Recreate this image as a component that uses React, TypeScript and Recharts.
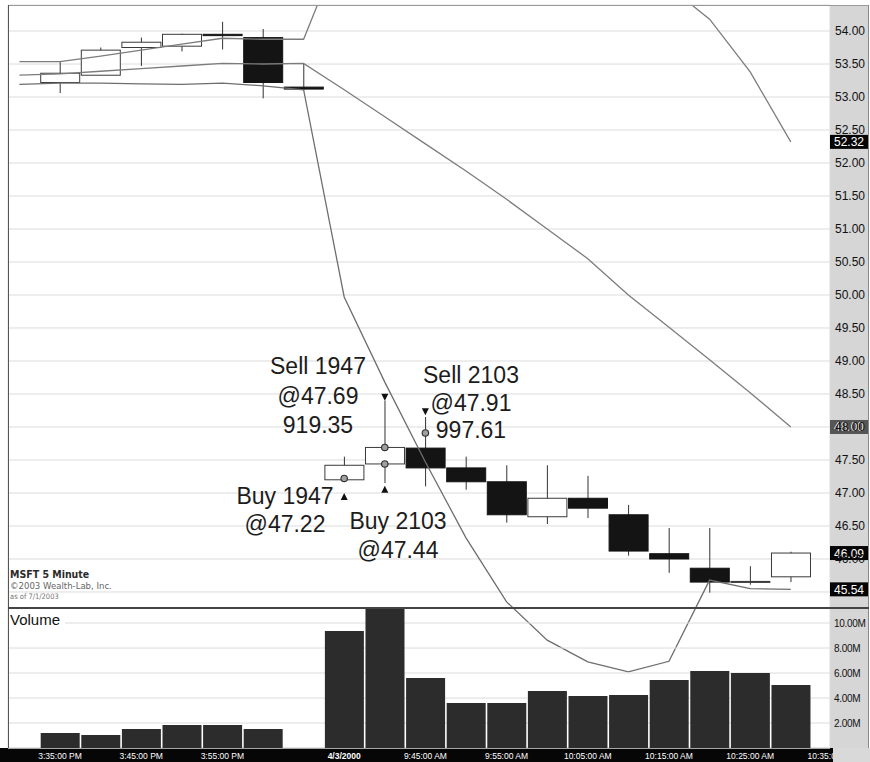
import React from "react";
import {
  Bar,
  CartesianGrid,
  ComposedChart,
  Line,
  ReferenceLine,
  Scatter,
  XAxis,
  YAxis,
} from "recharts";

// bar slots (5 minute bars); slot -1 only carries band values
const slots = [-1, 0, 1, 2, 3, 4, 5, 6, 7, 8, 9, 10, 11, 12, 13, 14, 15, 16, 17, 18];

const openP = [null, 53.22, 53.33, 53.75, 53.77, 53.95, 53.9, 53.15, 47.2, 47.44, 47.68, 47.38, 47.17, 46.64, 46.92, 46.67, 46.08, 45.86, 45.65, 45.73];
const highP = [null, 53.54, 53.75, 53.9, 53.96, 54.14, 54.03, 53.5, 47.55, 48.4, 48.15, 47.55, 47.42, 47.42, 47.26, 46.82, 46.47, 46.47, 45.89, 46.11];
const lowP = [null, 53.06, 53.33, 53.47, 53.69, 53.72, 52.98, 53.1, 47.17, 47.15, 47.1, 47.05, 46.55, 46.53, 46.62, 46.05, 45.79, 45.49, 45.61, 45.65];
const closeP = [null, 53.36, 53.71, 53.83, 53.95, 53.93, 53.22, 53.12, 47.42, 47.69, 47.38, 47.17, 46.67, 46.92, 46.77, 46.12, 46.0, 45.65, 45.66, 46.09];

const upperBand = [53.535, 53.535, 53.62, 53.71, 53.8, 53.89, 53.875, 53.875, 55.4, null, null, null, null, null, null, null, 54.67, 54.18, 53.38, 52.32];
const middleBand = [53.33, 53.35, 53.39, 53.43, 53.47, 53.51, 53.5, 53.51, 53.11, 52.7, 52.29, 51.88, 51.45, 51.0, 50.55, 50.0, 49.51, 49.02, 48.52, 48.0];
const lowerBand = [53.19, 53.21, 53.21, 53.2, 53.19, 53.21, 53.17, 53.11, 49.97, 48.68, 47.47, 46.32, 45.35, 44.77, 44.44, 44.29, 44.45, 45.68, 45.55, 45.54];

// volume in millions
const volumeM = [null, 1.2, 1.04, 1.52, 1.84, 1.84, 1.52, null, 9.36, 11.6, 5.6, 3.6, 3.6, 4.56, 4.16, 4.24, 5.44, 6.16, 6.0, 5.04];

const priceTicks = [45.5, 46, 46.5, 47, 47.5, 48, 48.5, 49, 49.5, 50, 50.5, 51, 51.5, 52, 52.5, 53, 53.5, 54];
const volumeTicks = [2, 4, 6, 8, 10];
const gridSlots = [0, 2, 4, 6, 7, 9, 11, 13, 15, 17];
const timeSlots = [0, 2, 4, 7, 9, 11, 13, 15, 17, 19];
const timeLabels = ["3:35:00 PM", "3:45:00 PM", "3:55:00 PM", "4/3/2000", "9:45:00 AM", "9:55:00 AM", "10:05:00 AM", "10:15:00 AM", "10:25:00 AM", "10:35:00 AM"];

// trades
const buyArrows = [{ slot: 7, price: 46.94 }, { slot: 8, price: 47.05 }];
const sellArrows = [{ slot: 8, price: 48.46 }, { slot: 9, price: 48.24 }];
const fills = [{ slot: 7, price: 47.22 }, { slot: 8, price: 47.69 }, { slot: 8, price: 47.44 }, { slot: 9, price: 47.91 }];

const priceRows = slots.map((slot, i) => ({
  slot,
  open: openP[i],
  high: highP[i],
  low: lowP[i],
  close: closeP[i],
  upper: upperBand[i],
  middle: middleBand[i],
  lower: lowerBand[i],
}));
const volumeRows = slots.map((slot, i) => ({ slot, volume: volumeM[i] }));

const X_DOMAIN: [number, number] = [-1.2808, 18.966];
const FONT = "Arial, 'Liberation Sans', sans-serif";
const SMALL_FONT = "'DejaVu Sans Condensed', 'DejaVu Sans', Verdana, sans-serif";

const last = (arr: (number | null)[]) => arr[arr.length - 1] as number;

const Candle = (props: any) => {
  const { x, y, width, height, payload } = props;
  if (payload.open == null || !height) return null;
  const { open, close, high, low } = payload;
  const k = height / (high - low);
  const py = (p: number) => y + (high - p) * k;
  const cx = x + width / 2;
  const up = close >= open;
  const top = py(Math.max(open, close));
  const h = Math.max(py(Math.min(open, close)) - top, 1);
  return (
    <g>
      <line x1={cx} x2={cx} y1={y} y2={y + height} stroke="#333" strokeWidth={1} />
      <rect
        x={x}
        y={top}
        width={width}
        height={h}
        fill={up ? "#fff" : "#141414"}
        stroke={up ? "#3a3a3a" : "#141414"}
        strokeWidth={1}
      />
    </g>
  );
};

const UpMark = ({ cx, cy }: any) => (
  <path d={`M${cx},${cy - 4} L${cx + 3.5},${cy + 3} L${cx - 3.5},${cy + 3} Z`} fill="#111" />
);
const DownMark = ({ cx, cy }: any) => (
  <path d={`M${cx},${cy + 4} L${cx + 3.5},${cy - 3} L${cx - 3.5},${cy - 3} Z`} fill="#111" />
);
const FillMark = ({ cx, cy }: any) => (
  <circle cx={cx} cy={cy} r={3.2} fill="#a0a0a0" stroke="#333" strokeWidth={1.2} />
);

// the last-value tag of the lower band hides the 45.50 label completely
const PriceTick = ({ x, y, payload }: any) =>
  Math.abs(payload.value - last(lowerBand)) < 0.08 ? null : (
    <text x={x} y={y} dy={4} fontSize={12} fill="#111" fontFamily={FONT}>
      {payload.value.toFixed(2)}
    </text>
  );
const VolumeTick = ({ x, y, payload }: any) => (
  <text x={x} y={y} dy={3.5} fontSize={10} fill="#111" fontFamily={FONT} letterSpacing={-0.3}>
    {payload.value.toFixed(2)}M
  </text>
);
const TimeTick = ({ x, y, payload }: any) => {
  const label = timeLabels[timeSlots.indexOf(payload.value)];
  return (
    <text
      x={x}
      y={y}
      dy={11}
      textAnchor="middle"
      fontSize={8.5}
      fill="#fff"
      fontWeight={label && label.includes("/") ? "bold" : "normal"}
      fontFamily={FONT}
    >
      {label}
    </text>
  );
};

const ValueTag = ({ viewBox, text, bg }: any) => {
  if (!viewBox) return null;
  const x = viewBox.x + viewBox.width;
  const y = viewBox.y;
  return (
    <g>
      <rect x={x} y={y - 7} width={38} height={14} fill={bg} />
      <text x={x + 4} y={y + 4.5} fill="#fff" fontSize={12} fontFamily={FONT}>
        {text}
      </text>
    </g>
  );
};

const notes = [
  { lines: ["Sell 1947", "@47.69", "919.35"], cx: 318, cy: 367, lh: 29.5 },
  { lines: ["Sell 2103", "@47.91", "997.61"], cx: 471, cy: 376, lh: 27.5 },
  { lines: ["Buy 1947", "@47.22"], cx: 285, cy: 496, lh: 28 },
  { lines: ["Buy 2103", "@47.44"], cx: 398, cy: 521, lh: 29 },
];

const abs = (l: number, t: number, w: number, h: number, extra: React.CSSProperties = {}): React.CSSProperties => ({
  position: "absolute",
  left: l,
  top: t,
  width: w,
  height: h,
  ...extra,
});

export default function App() {
  return (
    <div style={abs(0, 0, 870, 762, { background: "#fff", overflow: "hidden", fontFamily: FONT })}>
      {/* panels */}
      <div style={abs(830, 5, 38, 743, { background: "#d6d6d6", borderRight: "1px solid #888" })} />
      <div style={abs(0, 748, 833, 14, { background: "#060606" })} />

      <div style={abs(0, 0, 870, 762)}>
        <ComposedChart width={870} height={762} data={priceRows} margin={{ top: 5, right: 2, bottom: 14, left: 8 }}>
          <CartesianGrid stroke="#dcdcdc" />
          <XAxis
            dataKey="slot"
            type="number"
            domain={X_DOMAIN}
            allowDataOverflow
            ticks={gridSlots}
            interval={0}
            height={0}
            tick={false}
            axisLine={false}
            tickLine={false}
          />
          <YAxis
            orientation="right"
            width={38}
            type="number"
            domain={[43.136, 54.394]}
            allowDataOverflow
            ticks={priceTicks}
            interval={0}
            tickSize={0}
            tickMargin={5}
            axisLine={false}
            tickLine={false}
            tick={<PriceTick />}
          />
          <Bar
            dataKey={(d: any) => (d.open == null ? null : [d.low, d.high])}
            barSize={39}
            shape={<Candle />}
            isAnimationActive={false}
          />
          <Line dataKey="upper" type="linear" stroke="#7c7c7c" strokeWidth={1.3} dot={false} activeDot={false} connectNulls isAnimationActive={false} />
          <Line dataKey="middle" type="linear" stroke="#7c7c7c" strokeWidth={1.3} dot={false} activeDot={false} isAnimationActive={false} />
          <Line dataKey="lower" type="linear" stroke="#6e6e6e" strokeWidth={1.3} dot={false} activeDot={false} isAnimationActive={false} />
          <Scatter data={buyArrows} dataKey="price" shape={<UpMark />} isAnimationActive={false} />
          <Scatter data={sellArrows} dataKey="price" shape={<DownMark />} isAnimationActive={false} />
          <Scatter data={fills} dataKey="price" shape={<FillMark />} isAnimationActive={false} />
          <ReferenceLine y={last(upperBand)} stroke="none" label={<ValueTag text={last(upperBand).toFixed(2)} bg="#050505" />} />
          <ReferenceLine y={last(middleBand)} stroke="none" label={<ValueTag text={last(middleBand).toFixed(2)} bg="#555" />} />
          <ReferenceLine y={last(closeP)} stroke="none" label={<ValueTag text={last(closeP).toFixed(2)} bg="#050505" />} />
          <ReferenceLine y={last(lowerBand)} stroke="none" label={<ValueTag text={last(lowerBand).toFixed(2)} bg="#050505" />} />
        </ComposedChart>
      </div>

      <div style={abs(0, 0, 870, 762)}>
        <ComposedChart width={870} height={762} data={volumeRows} margin={{ top: 608, right: 2, bottom: 0, left: 8 }}>
          <CartesianGrid stroke="#dcdcdc" vertical={false} />
          <XAxis
            dataKey="slot"
            type="number"
            domain={X_DOMAIN}
            allowDataOverflow
            ticks={timeSlots}
            interval={0}
            height={14}
            tickSize={0}
            tickMargin={0}
            axisLine={false}
            tickLine={false}
            tick={<TimeTick />}
          />
          <YAxis
            orientation="right"
            width={38}
            type="number"
            domain={[0, 11.2]}
            allowDataOverflow
            ticks={volumeTicks}
            interval={0}
            tickSize={0}
            tickMargin={4}
            axisLine={false}
            tickLine={false}
            tick={<VolumeTick />}
          />
          <Bar dataKey="volume" barSize={39} fill="#2c2c2c" isAnimationActive={false} />
        </ComposedChart>
      </div>

      {/* frame and overlays */}
      <div style={abs(8, 5, 860, 1, { background: "#9a9a9a" })} />
      <div style={abs(8, 5, 1, 743, { background: "#555" })} />
      <div style={abs(8, 607, 861, 2, { background: "#444" })} />
      <div style={abs(833, 748, 37, 14, { background: "#d9d9d9" })} />

      <div style={abs(9, 609, 56, 22, { background: "#fff" })} />
      <div style={abs(10, 610, 60, 20, { fontSize: 15, lineHeight: "20px", color: "#111" })}>Volume</div>

      <div style={abs(10, 567, 200, 14, { fontFamily: SMALL_FONT, fontWeight: "bold", fontSize: 10.5, lineHeight: "14px", color: "#2a2a2a" })}>
        MSFT 5 Minute
      </div>
      <div style={abs(10, 580, 200, 11, { fontFamily: SMALL_FONT, fontSize: 9.5, lineHeight: "11px", color: "#666" })}>
        ©2003 Wealth-Lab, Inc.
      </div>
      <div style={abs(10, 592, 200, 9, { fontFamily: SMALL_FONT, fontSize: 7.5, lineHeight: "9px", color: "#777" })}>
        as of 7/1/2003
      </div>

      {notes.map((n, i) => (
        <div
          key={i}
          style={abs(n.cx - 80, n.cy - n.lh / 2, 160, n.lh * n.lines.length, {
            textAlign: "center",
            fontSize: 23,
            lineHeight: `${n.lh}px`,
            color: "#1c1c1c",
          })}
        >
          {n.lines.map((t, j) => (
            <div key={j}>{t}</div>
          ))}
        </div>
      ))}
    </div>
  );
}
